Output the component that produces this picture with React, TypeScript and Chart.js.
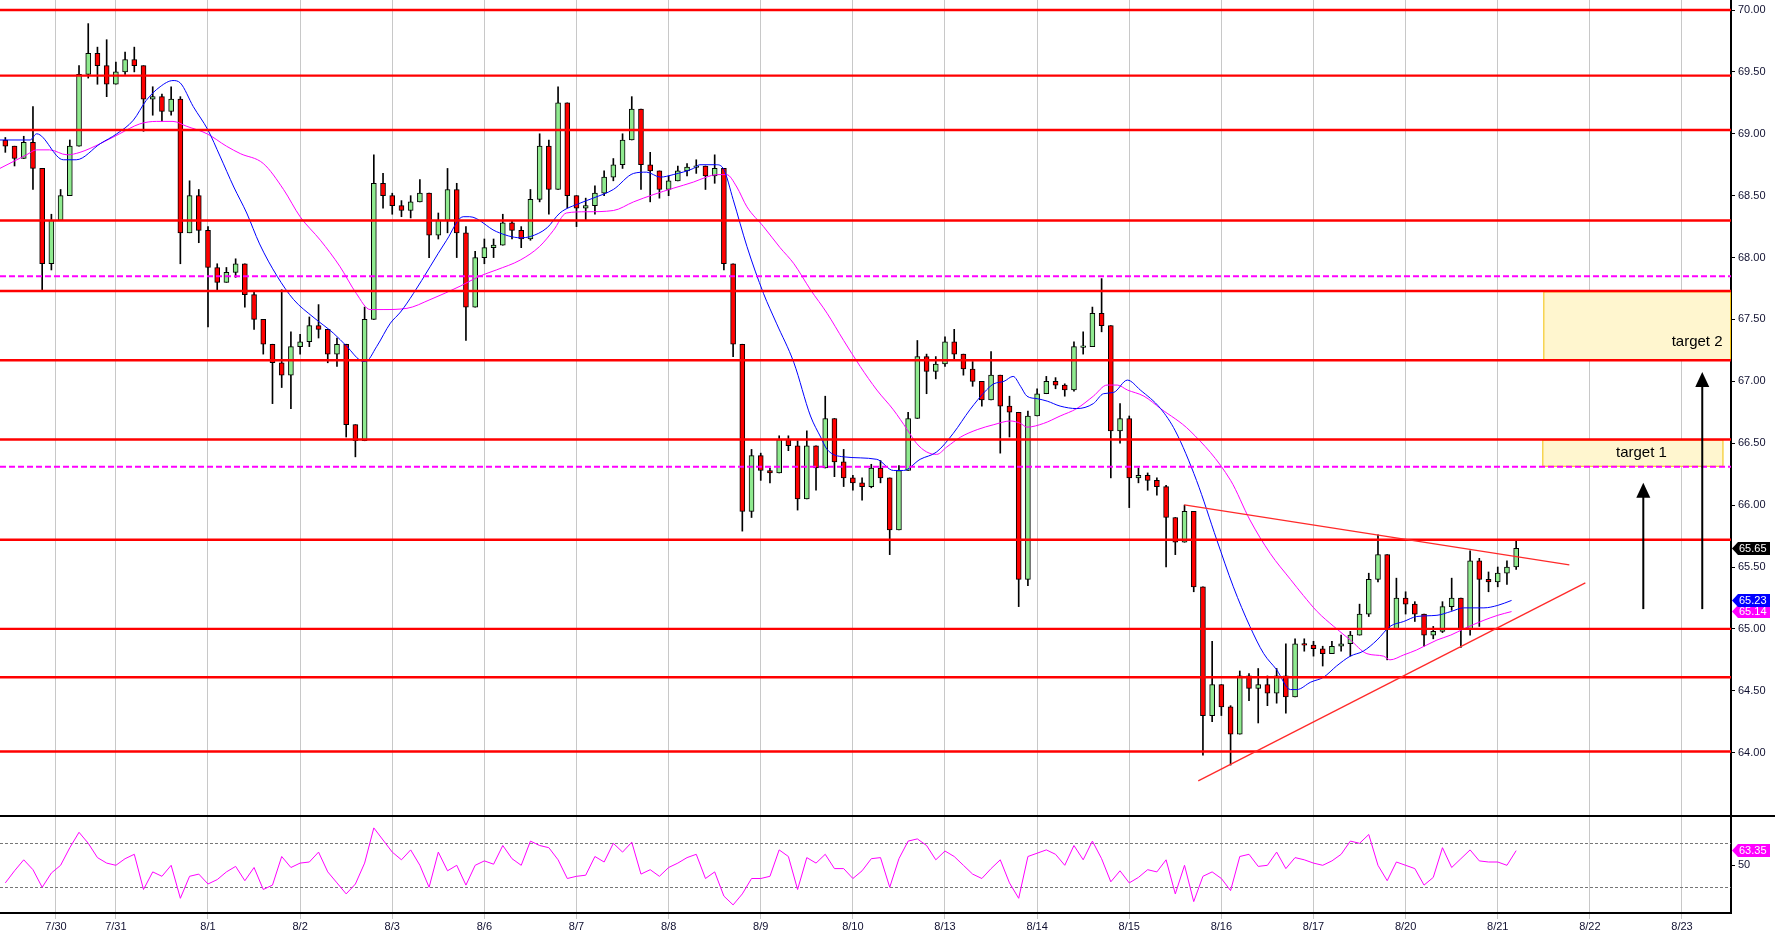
import React, { useEffect, useRef } from 'react';
import { Chart, registerables } from 'chart.js';

Chart.register(...registerables);

const FONT = 'Liberation Sans, Arial, sans-serif';

// axis ranges (x in trading-day units, 8/1 = 2)
const X_MIN = -0.2578;
const X_MAX = 18.532;
const P_MIN = 63.4885;
const P_MAX = 70.0808;
const R_MIN = 6.64;
const R_MAX = 94.82;

const dayTickPositions = [0.35, 1, 2, 3, 4, 5, 6, 7, 8, 9, 10, 11, 12, 13, 14, 15, 16, 17, 18];
const dayTickLabels = ['7/30', '7/31', '8/1', '8/2', '8/3', '8/6', '8/7', '8/8', '8/9', '8/10', '8/13', '8/14', '8/15', '8/16', '8/17', '8/20', '8/21', '8/22', '8/23'];
const priceTicks = [64, 64.5, 65, 65.5, 66, 66.5, 67, 67.5, 68, 68.5, 69, 69.5, 70];
const rsiTicks = [50];

// candles: one bar every 0.1 trading day starting at day -0.2
const barStart = -0.2;
const barStep = 0.1;
const firstOpen = 68.95;
const closes = [
  68.90, 68.80, 68.93, 68.72, 67.95, 68.30, 68.50, 68.90, 69.48, 69.65,
  69.55, 69.40, 69.50, 69.60, 69.55, 69.28, 69.30, 69.18, 69.28, 68.20,
  68.50, 68.22, 67.92, 67.80, 67.88, 67.95, 67.70, 67.50, 67.30, 67.15,
  67.05, 67.28, 67.32, 67.45, 67.42, 67.22, 67.30, 66.65, 66.52, 67.50,
  68.60, 68.50, 68.42, 68.38, 68.45, 68.52, 68.18, 68.30, 68.55, 68.20,
  67.60, 68.00, 68.08, 68.10, 68.28, 68.22, 68.15, 68.47, 68.90, 68.55,
  69.25, 68.50, 68.40, 68.42, 68.52, 68.65, 68.75, 68.95, 69.20, 68.75,
  68.70, 68.55, 68.62, 68.70, 68.73, 68.74, 68.66, 68.72, 67.95, 67.30,
  65.95, 66.40, 66.28, 66.26, 66.53, 66.48, 66.05, 66.48, 66.30, 66.70,
  66.35, 66.22, 66.18, 66.15, 66.30, 66.22, 65.80, 66.28, 66.70, 67.20,
  67.08, 67.14, 67.32, 67.22, 67.10, 67.00, 66.85, 67.05, 66.80, 66.75,
  65.40, 66.72, 66.90, 67.00, 66.97, 66.93, 67.28, 67.28, 67.55, 67.45,
  66.60, 66.70, 66.22, 66.24, 66.20, 66.15, 65.90, 65.70, 65.95, 65.34,
  64.30, 64.55, 64.37, 64.15, 64.62, 64.52, 64.55, 64.48, 64.62, 64.45,
  64.88, 64.87, 64.84, 64.80, 64.86, 64.88, 64.95, 65.12, 65.40, 65.60,
  65.00, 65.25, 65.20, 65.12, 64.95, 64.98, 65.18, 65.25, 65.00, 65.55,
  65.40, 65.38, 65.45, 65.50, 65.65,
];
const highs = [
  68.97, 68.90, 68.98, 69.22, 68.72, 68.35, 68.55, 68.95, 69.55, 69.89,
  69.70, 69.76, 69.58, 69.66, 69.70, 69.55, 69.38, 69.32, 69.38, 69.30,
  68.62, 68.55, 68.25, 67.95, 67.92, 67.99, 67.95, 67.72, 67.50, 67.30,
  67.74, 67.40, 67.38, 67.52, 67.62, 67.40, 67.35, 67.30, 66.65, 67.60,
  68.83, 68.68, 68.52, 68.46, 68.50, 68.63, 68.50, 68.36, 68.72, 68.60,
  68.25, 68.05, 68.15, 68.15, 68.35, 68.30, 68.25, 68.55, 69.00, 68.95,
  69.38, 69.15, 68.50, 68.48, 68.58, 68.70, 68.80, 69.00, 69.30, 69.20,
  68.85, 68.70, 68.66, 68.74, 68.76, 68.79, 68.74, 68.83, 68.72, 67.95,
  67.30, 66.45, 66.42, 66.30, 66.56, 66.56, 66.52, 66.60, 66.48, 66.88,
  66.65, 66.45, 66.24, 66.22, 66.33, 66.36, 66.22, 66.32, 66.75, 67.33,
  67.22, 67.20, 67.36, 67.42, 67.22, 67.16, 67.00, 67.24, 67.05, 66.88,
  66.75, 66.76, 66.94, 67.04, 67.03, 66.98, 67.32, 67.40, 67.60, 67.83,
  67.45, 66.82, 66.72, 66.30, 66.26, 66.22, 66.16, 65.90, 66.00, 65.95,
  65.34, 64.90, 64.55, 64.38, 64.66, 64.64, 64.68, 64.62, 64.68, 64.88,
  64.92, 64.92, 64.90, 64.86, 64.90, 64.95, 64.98, 65.20, 65.45, 65.76,
  65.60, 65.41, 65.30, 65.22, 65.10, 65.02, 65.22, 65.41, 65.25, 65.63,
  65.57, 65.46, 65.50, 65.55, 65.71,
];
const lows = [
  68.85, 68.74, 68.80, 68.55, 67.73, 67.90, 68.35, 68.55, 68.95, 69.45,
  69.40, 69.30, 69.40, 69.48, 69.50, 69.02, 69.15, 69.10, 69.15, 67.95,
  68.20, 68.12, 67.44, 67.74, 67.80, 67.84, 67.60, 67.42, 67.22, 66.82,
  66.95, 66.78, 67.22, 67.28, 67.35, 67.15, 67.12, 66.55, 66.39, 66.60,
  67.50, 68.40, 68.35, 68.33, 68.32, 68.45, 68.00, 68.15, 68.20, 68.00,
  67.33, 67.60, 67.95, 68.00, 68.10, 68.15, 68.08, 68.14, 68.45, 68.35,
  68.55, 68.40, 68.25, 68.30, 68.35, 68.50, 68.62, 68.72, 68.95, 68.55,
  68.45, 68.48, 68.50, 68.62, 68.66, 68.68, 68.55, 68.60, 67.90, 67.20,
  65.79, 65.90, 66.20, 66.18, 66.28, 66.44, 65.96, 66.05, 66.12, 66.30,
  66.23, 66.15, 66.12, 66.04, 66.14, 66.18, 65.60, 65.80, 66.28, 66.70,
  66.90, 67.02, 67.12, 67.18, 67.05, 66.96, 66.80, 66.85, 66.42, 66.55,
  65.18, 65.35, 66.72, 66.90, 66.94, 66.88, 66.92, 67.22, 67.28, 67.40,
  66.22, 66.50, 65.98, 66.18, 66.12, 66.08, 65.50, 65.60, 65.70, 65.30,
  63.98, 64.25, 64.30, 63.90, 64.15, 64.42, 64.24, 64.38, 64.40, 64.32,
  64.45, 64.82, 64.78, 64.70, 64.80, 64.82, 64.78, 64.98, 65.10, 65.38,
  64.75, 65.00, 65.12, 65.06, 64.86, 64.92, 64.97, 65.15, 64.85, 64.95,
  65.02, 65.30, 65.34, 65.36, 65.48,
];

// moving averages as [day, price]
const blueMA = [
  [-0.26, 68.95], [0.07, 68.95], [0.14, 69.0], [0.43, 68.79], [0.57, 68.79], [0.83, 68.92],
  [1.01, 69.0], [1.19, 69.11], [1.33, 69.27], [1.48, 69.38], [1.62, 69.43], [1.70, 69.41],
  [1.84, 69.22], [2.0, 69.03], [2.13, 68.82], [2.28, 68.57], [2.42, 68.36], [2.56, 68.11],
  [2.75, 67.85], [2.93, 67.66], [3.14, 67.52], [3.36, 67.39], [3.51, 67.28], [3.65, 67.17],
  [3.71, 67.16], [3.83, 67.28], [3.98, 67.47], [4.09, 67.56], [4.23, 67.71], [4.59, 68.14],
  [4.77, 68.33], [4.84, 68.33], [5.13, 68.21], [5.39, 68.16], [5.50, 68.17], [5.68, 68.24],
  [5.82, 68.36], [6.04, 68.44], [6.18, 68.48], [6.40, 68.55], [6.62, 68.68], [6.76, 68.69],
  [6.91, 68.65], [7.05, 68.67], [7.27, 68.72], [7.34, 68.75], [7.52, 68.75], [7.60, 68.71],
  [7.70, 68.47], [7.85, 68.09], [8.03, 67.71], [8.17, 67.47], [8.36, 67.15], [8.54, 66.72],
  [8.65, 66.55], [8.72, 66.45], [8.90, 66.39], [9.26, 66.37], [9.44, 66.28], [9.55, 66.28],
  [9.73, 66.37], [9.91, 66.43], [10.09, 66.58], [10.27, 66.77], [10.45, 66.93], [10.53, 66.98],
  [10.64, 67.0], [10.74, 67.04], [10.82, 66.96], [10.89, 66.88], [11.0, 66.86], [11.11, 66.84],
  [11.25, 66.80], [11.43, 66.78], [11.61, 66.82], [11.72, 66.90], [11.83, 66.91], [11.98, 67.01],
  [12.12, 66.93], [12.34, 66.78], [12.5, 66.6], [12.73, 66.2], [12.95, 65.72], [13.13, 65.34],
  [13.31, 65.02], [13.46, 64.80], [13.60, 64.67], [13.75, 64.51], [13.82, 64.51], [13.97, 64.57],
  [14.11, 64.61], [14.25, 64.70], [14.40, 64.78], [14.54, 64.82], [14.69, 64.91], [14.83, 65.02],
  [14.98, 65.06], [15.12, 65.10], [15.34, 65.11], [15.49, 65.14], [15.63, 65.17], [15.85, 65.17],
  [16.0, 65.19], [16.15, 65.23],
];
const magentaMA = [
  [-0.26, 68.72], [0.03, 68.83], [0.14, 68.87], [0.28, 68.87], [0.47, 68.83], [0.61, 68.85],
  [0.83, 68.92], [1.04, 69.0], [1.26, 69.08], [1.44, 69.10], [1.62, 69.10], [1.77, 69.06],
  [1.99, 69.0], [2.20, 68.90], [2.35, 68.84], [2.60, 68.76], [2.82, 68.55], [3.0, 68.33],
  [3.22, 68.14], [3.43, 67.93], [3.61, 67.71], [3.76, 67.58], [3.90, 67.58], [4.16, 67.59],
  [4.41, 67.66], [4.74, 67.77], [4.95, 67.85], [5.13, 67.90], [5.39, 67.98], [5.60, 68.09],
  [5.75, 68.22], [5.89, 68.36], [6.11, 68.37], [6.40, 68.38], [6.62, 68.45], [6.84, 68.51],
  [7.05, 68.56], [7.27, 68.61], [7.41, 68.65], [7.52, 68.67], [7.63, 68.67], [7.74, 68.57],
  [7.85, 68.41], [8.03, 68.25], [8.21, 68.08], [8.36, 67.95], [8.54, 67.74], [8.72, 67.55],
  [8.90, 67.33], [9.08, 67.12], [9.26, 66.93], [9.44, 66.77], [9.59, 66.61], [9.69, 66.50],
  [9.80, 66.43], [9.91, 66.41], [10.02, 66.47], [10.17, 66.55], [10.35, 66.61], [10.53, 66.65],
  [10.71, 66.68], [10.82, 66.66], [10.89, 66.63], [11.07, 66.66], [11.25, 66.72], [11.43, 66.78],
  [11.61, 66.88], [11.76, 66.97], [11.87, 66.97], [11.98, 66.93], [12.16, 66.88], [12.34, 66.78],
  [12.66, 66.6], [13.10, 66.2], [13.31, 65.88], [13.53, 65.61], [13.75, 65.40], [13.89, 65.27],
  [14.04, 65.14], [14.22, 65.02], [14.40, 64.91], [14.58, 64.80], [14.76, 64.78], [14.83, 64.75],
  [14.98, 64.79], [15.12, 64.83], [15.34, 64.91], [15.49, 64.95], [15.63, 65.0], [15.85, 65.07],
  [16.0, 65.11], [16.15, 65.14],
];

// RSI, one value per candle
const rsiValues = [
  34, 45, 55, 46, 30, 43, 50, 66, 80, 70,
  57, 52, 50, 56, 60, 28, 44, 40, 50, 20,
  40, 42, 33, 37, 44, 49, 36, 48, 28, 32,
  58, 48, 52, 53, 62, 44, 34, 24, 33, 52,
  84, 73, 62, 55, 64, 50, 30, 62, 45, 50,
  32, 50, 54, 51, 68, 56, 50, 72, 68, 66,
  55, 38, 40, 41, 58, 53, 70, 62, 71, 42,
  46, 40, 48, 52, 57, 60, 38, 44, 22, 14,
  24, 38, 38, 40, 64, 58, 28, 57, 52, 60,
  47, 47, 38, 45, 56, 57, 30, 56, 72, 74,
  68, 55, 63, 58, 50, 42, 38, 47, 55, 34,
  20, 58, 61, 64, 60, 50, 68, 55, 72, 56,
  35, 45, 34, 39, 46, 44, 55, 24, 50, 17,
  40, 44, 38, 27, 58, 60, 49, 50, 62, 47,
  57, 55, 52, 50, 54, 60, 72, 70, 78, 50,
  36, 53, 50, 47, 32, 39, 66, 48, 56, 64,
  54, 53, 53, 50, 63.35,
];
const rsiBands = [70, 30];

// drawn levels and annotations (data coordinates)
const redLevels = [70.0, 69.47, 69.03, 68.30, 67.73, 67.17, 66.53, 65.72, 65.0, 64.61, 64.01];
const dashedLevels = [67.85, 66.31];
const trendUpper = [[12.597, 66.002], [16.777, 65.517]];
const trendLower = [[12.749, 63.772], [16.951, 65.372]];
const targetBoxes = [
  { x0: 16.495, x1: X_MAX, top: 67.727, bottom: 67.165 },
  { x0: 16.484, x1: 18.45, top: 66.53, bottom: 66.31 },
];
const targetLabels = [
  { text: 'target 1', x: 17.56, y: 66.42, align: 'center' },
  { text: 'target 2', x: 18.44, y: 67.32, align: 'right' },
];
const arrows = [
  { x: 17.58, from: 65.16, to: 66.18 },
  { x: 18.22, from: 65.16, to: 67.076 },
];
const lastPrice = 65.65;
const lastBlue = 65.23;
const lastMagenta = 65.14;
const lastRsi = 63.35;

const barDay = (i: number) => barStart + barStep * i;
const opens = closes.map((c, i) => (i === 0 ? firstOpen : closes[i - 1]));

function drawFlag(ctx: CanvasRenderingContext2D, xLeft: number, yc: number, text: string, bg: string) {
  const h = 13;
  const tip = 6;
  const right = xLeft + 38;
  ctx.save();
  ctx.beginPath();
  ctx.moveTo(xLeft, yc);
  ctx.lineTo(xLeft + tip, yc - h / 2);
  ctx.lineTo(right, yc - h / 2);
  ctx.lineTo(right, yc + h / 2);
  ctx.lineTo(xLeft + tip, yc + h / 2);
  ctx.closePath();
  ctx.fillStyle = bg;
  ctx.fill();
  ctx.fillStyle = '#fff';
  ctx.font = `11px ${FONT}`;
  ctx.textAlign = 'left';
  ctx.textBaseline = 'middle';
  ctx.fillText(text, xLeft + tip + 1, yc + 0.5);
  ctx.restore();
}

const pricePlugin = {
  id: 'priceAnnotations',
  beforeDatasetsDraw(chart: any) {
    const { ctx, scales } = chart;
    const x = scales.x;
    const y = scales.y;
    ctx.save();
    targetBoxes.forEach((b) => {
      const l = x.getPixelForValue(b.x0);
      const r = x.getPixelForValue(b.x1);
      const t = y.getPixelForValue(b.top);
      const bt = y.getPixelForValue(b.bottom);
      ctx.fillStyle = '#fff6cf';
      ctx.fillRect(l, t, r - l, bt - t);
      ctx.strokeStyle = '#f2c20f';
      ctx.lineWidth = 1;
      ctx.strokeRect(l + 0.5, t + 0.5, r - l - 1, bt - t - 1);
    });
    ctx.restore();
  },
  afterDatasetsDraw(chart: any) {
    const { ctx, chartArea, scales } = chart;
    const x = scales.x;
    const y = scales.y;
    ctx.save();
    // dashed magenta levels
    ctx.strokeStyle = '#ff00ff';
    ctx.lineWidth = 2;
    ctx.setLineDash([6, 3]);
    dashedLevels.forEach((v) => {
      const py = y.getPixelForValue(v);
      ctx.beginPath();
      ctx.moveTo(chartArea.left, py);
      ctx.lineTo(chartArea.right, py);
      ctx.stroke();
    });
    ctx.setLineDash([]);
    // red levels
    ctx.strokeStyle = '#ff0000';
    ctx.lineWidth = 2.4;
    redLevels.forEach((v) => {
      const py = y.getPixelForValue(v);
      ctx.beginPath();
      ctx.moveTo(chartArea.left, py);
      ctx.lineTo(chartArea.right, py);
      ctx.stroke();
    });
    // trend lines
    ctx.strokeStyle = '#ff2a2a';
    ctx.lineWidth = 1.3;
    [trendUpper, trendLower].forEach((seg) => {
      ctx.beginPath();
      ctx.moveTo(x.getPixelForValue(seg[0][0]), y.getPixelForValue(seg[0][1]));
      ctx.lineTo(x.getPixelForValue(seg[1][0]), y.getPixelForValue(seg[1][1]));
      ctx.stroke();
    });
    // arrows
    arrows.forEach((a) => {
      const px = x.getPixelForValue(a.x);
      const y0 = y.getPixelForValue(a.from);
      const y1 = y.getPixelForValue(a.to);
      ctx.strokeStyle = '#000';
      ctx.lineWidth = 2;
      ctx.beginPath();
      ctx.moveTo(px, y0);
      ctx.lineTo(px, y1 + 12);
      ctx.stroke();
      ctx.fillStyle = '#000';
      ctx.beginPath();
      ctx.moveTo(px, y1);
      ctx.lineTo(px - 7, y1 + 15);
      ctx.lineTo(px + 7, y1 + 15);
      ctx.closePath();
      ctx.fill();
    });
    // target labels
    ctx.fillStyle = '#000';
    ctx.font = `15px ${FONT}`;
    ctx.textBaseline = 'middle';
    targetLabels.forEach((t) => {
      ctx.textAlign = t.align as CanvasTextAlign;
      ctx.fillText(t.text, x.getPixelForValue(t.x), y.getPixelForValue(t.y));
    });
    ctx.restore();
  },
  afterDraw(chart: any) {
    const { ctx, chartArea, scales } = chart;
    const y = scales.y;
    const xl = chartArea.right + 1;
    drawFlag(ctx, xl, y.getPixelForValue(lastPrice), lastPrice.toFixed(2), '#000');
    drawFlag(ctx, xl, y.getPixelForValue(lastMagenta), lastMagenta.toFixed(2), '#ff00ff');
    drawFlag(ctx, xl, y.getPixelForValue(lastBlue), lastBlue.toFixed(2), '#0000ff');
  },
};

const rsiPlugin = {
  id: 'rsiAnnotations',
  beforeDatasetsDraw(chart: any) {
    const { ctx, chartArea, scales } = chart;
    const y = scales.y;
    ctx.save();
    ctx.strokeStyle = '#777';
    ctx.lineWidth = 1;
    ctx.setLineDash([3, 2]);
    rsiBands.forEach((v) => {
      const py = Math.round(y.getPixelForValue(v)) + 0.5;
      ctx.beginPath();
      ctx.moveTo(chartArea.left, py);
      ctx.lineTo(chartArea.right, py);
      ctx.stroke();
    });
    ctx.restore();
  },
  afterDraw(chart: any) {
    const { ctx, chartArea, scales, width } = chart;
    ctx.save();
    ctx.strokeStyle = '#000';
    ctx.lineWidth = 2;
    ctx.beginPath();
    ctx.moveTo(0, chartArea.top);
    ctx.lineTo(width, chartArea.top);
    ctx.stroke();
    ctx.restore();
    drawFlag(ctx, chartArea.right + 1, scales.y.getPixelForValue(lastRsi), lastRsi.toFixed(2), '#ff00ff');
  },
};

function noPad(s: any) {
  s.paddingTop = 0;
  s.paddingBottom = 0;
  s.paddingLeft = 0;
  s.paddingRight = 0;
}

function priceConfig(): any {
  const wickData = closes.map((c, i) => ({
    x: barDay(i),
    y: [Math.min(lows[i], opens[i], c), Math.max(highs[i], opens[i], c)],
  }));
  const bodyData = closes.map((c, i) => {
    let lo = Math.min(opens[i], c);
    let hi = Math.max(opens[i], c);
    if (hi - lo < 0.012) {
      const m = (hi + lo) / 2;
      lo = m - 0.006;
      hi = m + 0.006;
    }
    return { x: barDay(i), y: [lo, hi] };
  });
  const bodyColors = closes.map((c, i) => (c >= opens[i] ? '#8fea8f' : '#ff0000'));
  return {
    type: 'line',
    data: {
      datasets: [
        {
          type: 'bar',
          data: wickData,
          backgroundColor: '#000',
          borderWidth: 0,
          barThickness: 1,
          grouped: false,
          order: 4,
        },
        {
          type: 'bar',
          data: bodyData,
          backgroundColor: bodyColors,
          borderColor: '#000',
          borderWidth: 1,
          borderSkipped: false,
          barThickness: 5,
          grouped: false,
          order: 3,
        },
        {
          type: 'line',
          data: magentaMA.map((p) => ({ x: p[0], y: p[1] })),
          borderColor: '#ff00ff',
          borderWidth: 1,
          pointRadius: 0,
          cubicInterpolationMode: 'monotone',
          order: 2,
        },
        {
          type: 'line',
          data: blueMA.map((p) => ({ x: p[0], y: p[1] })),
          borderColor: '#0000ff',
          borderWidth: 1,
          pointRadius: 0,
          cubicInterpolationMode: 'monotone',
          order: 1,
        },
      ],
    },
    options: {
      responsive: false,
      animation: false,
      devicePixelRatio: 1,
      layout: { padding: 0 },
      plugins: { legend: { display: false }, tooltip: { enabled: false } },
      events: [],
      scales: {
        x: {
          type: 'linear',
          min: X_MIN,
          max: X_MAX,
          offset: false,
          afterBuildTicks: (s: any) => {
            s.ticks = dayTickPositions.map((v) => ({ value: v }));
          },
          afterFit: (s: any) => {
            s.height = 0;
            noPad(s);
          },
          ticks: { display: false },
          grid: { color: '#c8c8c8', lineWidth: 1, drawTicks: false, offset: false },
          border: { display: false },
        },
        y: {
          type: 'linear',
          position: 'right',
          min: P_MIN,
          max: P_MAX,
          afterBuildTicks: (s: any) => {
            s.ticks = priceTicks.map((v) => ({ value: v }));
          },
          afterFit: (s: any) => {
            s.width = 44;
            noPad(s);
          },
          ticks: {
            font: { family: FONT, size: 11 },
            color: '#101030',
            padding: 3,
            callback: (v: any) => Number(v).toFixed(2),
          },
          grid: { drawOnChartArea: false, drawTicks: true, tickLength: 4, color: '#000', tickColor: '#000' },
          border: { display: true, color: '#000', width: 2 },
        },
      },
    },
    plugins: [pricePlugin],
  };
}

function rsiConfig(): any {
  return {
    type: 'line',
    data: {
      datasets: [
        {
          data: rsiValues.map((v, i) => ({ x: barDay(i), y: v })),
          borderColor: '#ff00ff',
          borderWidth: 1,
          pointRadius: 0,
          tension: 0,
        },
      ],
    },
    options: {
      responsive: false,
      animation: false,
      devicePixelRatio: 1,
      layout: { padding: { top: 2, left: 0, right: 0, bottom: 0 } },
      plugins: { legend: { display: false }, tooltip: { enabled: false } },
      events: [],
      scales: {
        x: {
          type: 'linear',
          min: X_MIN,
          max: X_MAX,
          offset: false,
          afterBuildTicks: (s: any) => {
            s.ticks = dayTickPositions.map((v) => ({ value: v }));
          },
          afterFit: (s: any) => {
            s.height = 26;
            noPad(s);
          },
          ticks: {
            autoSkip: false,
            maxRotation: 0,
            minRotation: 0,
            padding: 1,
            font: { family: FONT, size: 11 },
            color: '#101030',
            callback: (_v: any, i: number) => dayTickLabels[i],
          },
          grid: { color: '#c8c8c8', lineWidth: 1, drawTicks: true, tickLength: 6, tickColor: '#c8c8c8', offset: false },
          border: { display: true, color: '#000', width: 2 },
        },
        y: {
          type: 'linear',
          position: 'right',
          min: R_MIN,
          max: R_MAX,
          afterBuildTicks: (s: any) => {
            s.ticks = rsiTicks.map((v) => ({ value: v }));
          },
          afterFit: (s: any) => {
            s.width = 44;
            noPad(s);
          },
          ticks: {
            font: { family: FONT, size: 11 },
            color: '#101030',
            padding: 3,
            callback: (v: any) => String(v),
          },
          grid: { drawOnChartArea: false, drawTicks: true, tickLength: 4, color: '#000', tickColor: '#000' },
          border: { display: true, color: '#000', width: 2 },
        },
      },
    },
    plugins: [rsiPlugin],
  };
}

export default function App() {
  const priceRef = useRef<HTMLCanvasElement>(null);
  const rsiRef = useRef<HTMLCanvasElement>(null);
  useEffect(() => {
    const pc = new Chart(priceRef.current as HTMLCanvasElement, priceConfig());
    const rc = new Chart(rsiRef.current as HTMLCanvasElement, rsiConfig());
    return () => {
      pc.destroy();
      rc.destroy();
    };
  }, []);
  return (
    <div style={{ position: 'fixed', left: 0, top: 0, width: 1775, height: 939, background: '#fff', overflow: 'hidden' }}>
      <canvas
        ref={priceRef}
        width={1775}
        height={816}
        style={{ position: 'absolute', left: 0, top: 0, width: 1775, height: 816 }}
      />
      <canvas
        ref={rsiRef}
        width={1775}
        height={125}
        style={{ position: 'absolute', left: 0, top: 814, width: 1775, height: 125 }}
      />
    </div>
  );
}
